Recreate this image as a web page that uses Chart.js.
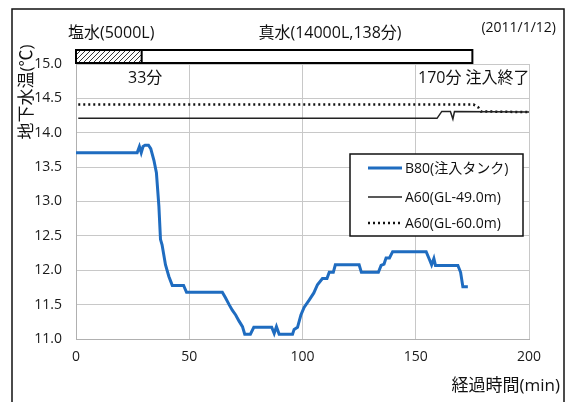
<!DOCTYPE html>
<html>
<head>
<meta charset="utf-8">
<script src="https://cdn.jsdelivr.net/npm/chart.js@4/dist/chart.umd.min.js"></script>
<style>
  html, body { margin: 0; padding: 0; background: #fff; }
  #wrap { width: 568px; height: 402px; }
</style>
</head>
<body>
<div id="wrap"><canvas id="chart" width="568" height="402"></canvas></div>
<script>
// Data
const b80Time = [0, 27, 28, 28.8, 29.6, 30.5, 32, 33, 34.4, 35.5, 36.6, 37.3, 38, 39.5, 41, 42.5, 47.5, 48.8,
  64.6, 66, 67.6, 69, 70.5, 72, 73.5, 74.5, 77, 78.5, 86.4, 87.5, 88.5, 89.7, 95.6, 96.3, 97.8, 99.3,
  100.7, 103, 105, 106.6, 108.8, 110.8, 111.8, 113.6, 114.5, 125, 126, 133.5, 134.7, 136, 136.9, 138.4,
  139.8, 154.6, 156, 157, 158, 158.7, 168.6, 169.8, 170.8, 173];
const b80Temp = [13.71, 13.71, 13.8, 13.71, 13.8, 13.82, 13.82, 13.77, 13.6, 13.42, 12.93, 12.45, 12.37, 12.08, 11.91, 11.78, 11.78, 11.68,
  11.68, 11.6, 11.5, 11.42, 11.35, 11.26, 11.18, 11.07, 11.07, 11.17, 11.17, 11.08, 11.18, 11.07, 11.07, 11.14, 11.17, 11.35,
  11.46, 11.57, 11.67, 11.79, 11.88, 11.88, 11.97, 11.97, 12.08, 12.08, 11.97, 11.97, 12.07, 12.09, 12.18, 12.18,
  12.27, 12.27, 12.16, 12.08, 12.17, 12.07, 12.07, 11.97, 11.76, 11.76];

const a49Time = [1, 159.4, 161.5, 165.3, 166.4, 167.1, 200];
const a49Temp = [14.21, 14.21, 14.31, 14.31, 14.2, 14.31, 14.3];

const a60Time = [1, 175.5, 177.6, 178.8, 200];
const a60Temp = [14.41, 14.41, 14.37, 14.31, 14.3];

const seriesNames = ['B80(注入タンク)', 'A60(GL-49.0m)', 'A60(GL-60.0m)'];

// injection bar: salt water then fresh water (minutes)
const injectEdges = [0, 29, 175];
const injectLabels = ['塩水(5000L)', '真水(14000L,138分)'];
const noteLabels = ['33分', '170分 注入終了'];
const dateLabel = '(2011/1/12)';

const FONT = '"Open Sans", "Noto Sans CJK JP", sans-serif';

function toPoints(xs, ys) {
  return xs.map((x, i) => ({ x: x, y: ys[i] }));
}

// Draws the injection bar, the free texts, the y title and the legend
const decorations = {
  id: 'decorations',
  afterDraw(chart) {
    const ctx = chart.ctx;
    const area = chart.chartArea;
    const xs = chart.scales.x;
    ctx.save();

    // outer frame
    ctx.strokeStyle = '#111';
    ctx.lineWidth = 1.5;
    ctx.strokeRect(12, 9, 552, 400);

    // injection bar
    const x0 = xs.getPixelForValue(injectEdges[0]);
    const x1 = xs.getPixelForValue(injectEdges[1]);
    const x2 = xs.getPixelForValue(injectEdges[2]);
    const top = area.top - 14, h = 13;
    ctx.fillStyle = '#fff';
    ctx.fillRect(x0, top, x2 - x0, h);
    ctx.save();
    ctx.beginPath();
    ctx.rect(x0, top, x1 - x0, h);
    ctx.clip();
    ctx.strokeStyle = '#333';
    ctx.lineWidth = 1;
    for (let s = x0 - h; s < x1 + h; s += 5) {
      ctx.beginPath();
      ctx.moveTo(s, top + h);
      ctx.lineTo(s + h, top);
      ctx.stroke();
    }
    ctx.restore();
    ctx.strokeStyle = '#000';
    ctx.lineWidth = 2;
    ctx.strokeRect(x0, top, x2 - x0, h);
    ctx.beginPath();
    ctx.moveTo(x1, top);
    ctx.lineTo(x1, top + h);
    ctx.stroke();

    // texts
    ctx.fillStyle = '#111';
    ctx.textBaseline = 'middle';
    ctx.font = '16px ' + FONT;
    ctx.textAlign = 'left';
    ctx.fillText(injectLabels[0], 68, 33);
    ctx.textAlign = 'center';
    ctx.fillText(injectLabels[1], 330, 33);
    ctx.textAlign = 'left';
    ctx.fillText(noteLabels[0], 128, 78);
    ctx.fillText(noteLabels[1], 418, 78);
    ctx.font = '14px ' + FONT;
    ctx.textAlign = 'right';
    ctx.fillText(dateLabel, 556, 28);

    // y axis title, rotated
    ctx.save();
    ctx.translate(27, 92);
    ctx.rotate(-Math.PI / 2);
    ctx.font = '17px ' + FONT;
    ctx.textAlign = 'center';
    ctx.fillText('地下水温(℃)', 0, 0);
    ctx.restore();

    // x axis title
    ctx.font = '17px ' + FONT;
    ctx.textAlign = 'right';
    ctx.fillText('経過時間(min)', 560, 386);

    // legend box
    const lx = 350, ly = 154, lw = 173, lh = 82;
    ctx.fillStyle = '#fff';
    ctx.fillRect(lx, ly, lw, lh);
    ctx.strokeStyle = '#111';
    ctx.lineWidth = 1.5;
    ctx.strokeRect(lx, ly, lw, lh);
    const rows = [168, 197, 223];
    chart.data.datasets.forEach((ds, i) => {
      ctx.beginPath();
      ctx.strokeStyle = ds.borderColor;
      ctx.lineWidth = ds.borderWidth;
      ctx.setLineDash(ds.borderDash || []);
      ctx.moveTo(368, rows[i]);
      ctx.lineTo(402, rows[i]);
      ctx.stroke();
      ctx.setLineDash([]);
      ctx.fillStyle = '#111';
      ctx.font = '14px ' + FONT;
      ctx.textAlign = 'left';
      ctx.fillText(ds.label, 405, rows[i] + 1);
    });

    ctx.restore();
  }
};

new Chart(document.getElementById('chart'), {
  type: 'line',
  data: {
    datasets: [
      {
        label: seriesNames[0],
        data: toPoints(b80Time, b80Temp),
        borderColor: '#1f6cc0',
        borderWidth: 3,
        pointRadius: 0,
        tension: 0
      },
      {
        label: seriesNames[1],
        data: toPoints(a49Time, a49Temp),
        borderColor: '#222',
        borderWidth: 1.5,
        pointRadius: 0,
        tension: 0
      },
      {
        label: seriesNames[2],
        data: toPoints(a60Time, a60Temp),
        borderColor: '#111',
        borderWidth: 2.5,
        borderDash: [2, 3],
        pointRadius: 0,
        tension: 0
      }
    ]
  },
  options: {
    responsive: false,
    animation: false,
    devicePixelRatio: 1,
    layout: { padding: { top: 64, left: 0, right: 39, bottom: 0 } },
    plugins: {
      legend: { display: false },
      tooltip: { enabled: false }
    },
    scales: {
      x: {
        type: 'linear',
        min: 0,
        max: 200,
        afterFit: (scale) => { scale.height = 63; },
        ticks: {
          stepSize: 50,
          padding: 10,
          color: '#1a1a1a',
          font: { family: FONT, size: 14 }
        },
        grid: { color: '#c8c8c8', drawTicks: false },
        border: { color: '#b0b0b0' }
      },
      y: {
        min: 11,
        max: 15,
        afterFit: (scale) => { scale.width = 76; },
        ticks: {
          stepSize: 0.5,
          padding: 14,
          color: '#1a1a1a',
          font: { family: FONT, size: 14 },
          callback: (v) => v.toFixed(1)
        },
        grid: { color: '#c8c8c8', drawTicks: false },
        border: { color: '#b0b0b0' }
      }
    }
  },
  plugins: [decorations]
});
</script>
</body>
</html>
